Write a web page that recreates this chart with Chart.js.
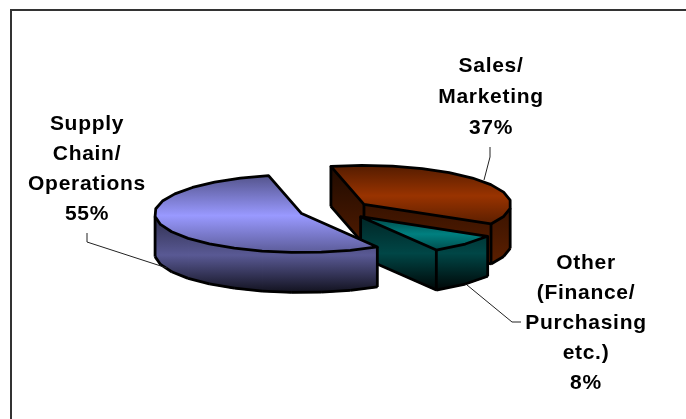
<!DOCTYPE html>
<html>
<head>
<meta charset="utf-8">
<style>
  html, body { margin: 0; padding: 0; background: #fff; }
  canvas { display: block; }
</style>
<script src="https://cdn.jsdelivr.net/npm/chart.js@4/dist/chart.umd.js"></script>
</head>
<body>
<canvas id="chart" width="686" height="419"></canvas>
<script>
// Share of respondents by function
const categories = ['Sales/Marketing', 'Other (Finance/Purchasing etc.)', 'Supply Chain/Operations'];
const shares = [37, 8, 55];
const sliceColors = ['#993300', '#008080', '#9999FF'];
const labelLines = [
  ['Sales/', 'Marketing'],
  ['Other', '(Finance/', 'Purchasing', 'etc.)'],
  ['Supply', 'Chain/', 'Operations']
];

// Look of the extruded pie
const FLATTEN = 0.265;
const DEPTH = 40;
const EXPLODE = 36;
const RADIUS = 147;
const ARC_STEP = Math.PI / 15;

// Brightness stops along each slice's side walls, [position, factor] top to bottom
const wallShades = [
  [[0, 0.2], [1, 0.6]],
  [[0, 0.3], [0.5, 0.55], [1, 0.05]],
  [[0, 0.3], [0.34, 0.3], [0.68, 0.58], [1, 0.12]]
];

// Label placement: centre x, first baseline, and leader polyline
const labelLayout = [
  { x: 491, y: 72, gap: 31, leader: [[490, 147], [490, 157], [484, 180]] },
  { x: 586, y: 269, gap: 30, leader: [[521, 322], [512, 322], [467, 285]] },
  { x: 87, y: 130, gap: 30, leader: [[87, 233], [87, 242], [167, 268]] }
];

function shade(hex, f) {
  const n = parseInt(hex.slice(1), 16);
  const c = [n >> 16, (n >> 8) & 255, n & 255].map(v => Math.round(v * f));
  return `rgb(${c[0]},${c[1]},${c[2]})`;
}

// Outline of a slice on the flattened plane, clockwise from its centre point
function outline(arc, cy) {
  const pts = [];
  const project = (x, y) => ({ x, y: cy + (y - cy) * FLATTEN });
  pts.push(project(arc.x, arc.y));
  const n = Math.max(2, Math.round((arc.endAngle - arc.startAngle) / ARC_STEP));
  for (let i = 0; i <= n; i++) {
    const a = arc.startAngle + (arc.endAngle - arc.startAngle) * i / n;
    pts.push(project(arc.x + Math.cos(a) * arc.outerRadius, arc.y + Math.sin(a) * arc.outerRadius));
  }
  return pts;
}

const extrudedPie = {
  id: 'extrudedPie',
  // Pull each slice away from the centre along its bisector
  afterDatasetsUpdate(chart) {
    chart.getDatasetMeta(0).data.forEach(arc => {
      const mid = (arc.startAngle + arc.endAngle) / 2;
      arc.x += Math.cos(mid) * EXPLODE;
      arc.y += Math.sin(mid) * EXPLODE;
    });
  },
  // Frame open towards the right and bottom of the page
  beforeDraw(chart) {
    const { ctx } = chart;
    ctx.save();
    ctx.strokeStyle = '#333';
    ctx.lineWidth = 2;
    ctx.beginPath();
    ctx.moveTo(11, chart.height);
    ctx.lineTo(11, 10);
    ctx.lineTo(chart.width, 10);
    ctx.stroke();
    ctx.restore();
  },
  beforeDatasetsDraw(chart) {
    const { ctx, chartArea } = chart;
    const cy = (chartArea.top + chartArea.bottom) / 2;
    ctx.save();
    ctx.lineJoin = 'round';
    chart.getDatasetMeta(0).data.forEach((arc, idx) => {
      const base = arc.options.backgroundColor;
      const pts = outline(arc, cy);
      const count = pts.length;
      const ys = pts.map(p => p.y);
      const top = Math.min(...ys), bottom = Math.max(...ys);
      // An edge i runs from vertex i to vertex i+1; it faces the viewer when it heads left
      const faces = i => pts[(i + 1) % count].x - pts[i % count].x < 0;

      const wall = ctx.createLinearGradient(0, top, 0, bottom + DEPTH);
      wallShades[idx].forEach(([pos, f]) => wall.addColorStop(pos, shade(base, f)));
      for (let i = 0; i < count; i++) {
        if (!faces(i)) continue;
        const p = pts[i], q = pts[(i + 1) % count];
        ctx.beginPath();
        ctx.moveTo(p.x, p.y);
        ctx.lineTo(q.x, q.y);
        ctx.lineTo(q.x, q.y + DEPTH);
        ctx.lineTo(p.x, p.y + DEPTH);
        ctx.closePath();
        ctx.fillStyle = wall;
        ctx.strokeStyle = wall;
        ctx.lineWidth = 1.4;
        ctx.fill();
        ctx.stroke();
      }

      ctx.strokeStyle = '#000';
      ctx.lineWidth = 2.8;
      for (let i = 0; i < count; i++) {
        if (faces(i)) {
          const p = pts[i], q = pts[(i + 1) % count];
          ctx.beginPath();
          ctx.moveTo(p.x, p.y + DEPTH);
          ctx.lineTo(q.x, q.y + DEPTH);
          ctx.stroke();
        }
        // Vertical creases at the slice's corners and where the wall turns away
        const before = faces((i - 1 + count) % count), after = faces(i);
        const corner = i === 0 || i === 1 || i === count - 1;
        if ((before !== after) || (corner && (before || after))) {
          ctx.beginPath();
          ctx.moveTo(pts[i].x, pts[i].y);
          ctx.lineTo(pts[i].x, pts[i].y + DEPTH);
          ctx.stroke();
        }
      }

      // Top face, brightest across its middle
      const face = ctx.createLinearGradient(0, top, 0, bottom);
      face.addColorStop(0, shade(base, 0.55));
      face.addColorStop(0.52, shade(base, 1));
      face.addColorStop(1, shade(base, 0.6));
      ctx.beginPath();
      pts.forEach((p, i) => (i ? ctx.lineTo(p.x, p.y) : ctx.moveTo(p.x, p.y)));
      ctx.closePath();
      ctx.fillStyle = face;
      ctx.fill();
      ctx.stroke();
    });
    ctx.restore();
    return false;
  },
  afterDraw(chart) {
    const { ctx } = chart;
    ctx.save();
    ctx.strokeStyle = '#222';
    ctx.lineWidth = 1;
    labelLayout.forEach(l => {
      ctx.beginPath();
      l.leader.forEach((p, i) => (i ? ctx.lineTo(p[0], p[1]) : ctx.moveTo(p[0], p[1])));
      ctx.stroke();
    });
    ctx.fillStyle = '#000';
    ctx.font = 'bold 21px "Liberation Sans", Arial, sans-serif';
    ctx.textAlign = 'center';
    ctx.textBaseline = 'alphabetic';
    if ('letterSpacing' in ctx) ctx.letterSpacing = '0.7px';
    labelLayout.forEach((l, i) => {
      const rows = labelLines[i].concat([`${shares[i]}%`]);
      rows.forEach((row, r) => ctx.fillText(row, l.x, l.y + r * l.gap));
    });
    ctx.restore();
  }
};

new Chart(document.getElementById('chart'), {
  type: 'pie',
  data: {
    labels: categories,
    datasets: [{
      data: shares,
      backgroundColor: sliceColors,
      borderWidth: 0,
      radius: RADIUS
    }]
  },
  options: {
    responsive: false,
    animation: false,
    events: [],
    rotation: -13,
    layout: { padding: { left: 0, right: 16, top: 1, bottom: 0 } },
    plugins: { legend: { display: false }, tooltip: { enabled: false } }
  },
  plugins: [extrudedPie]
});
</script>
</body>
</html>
